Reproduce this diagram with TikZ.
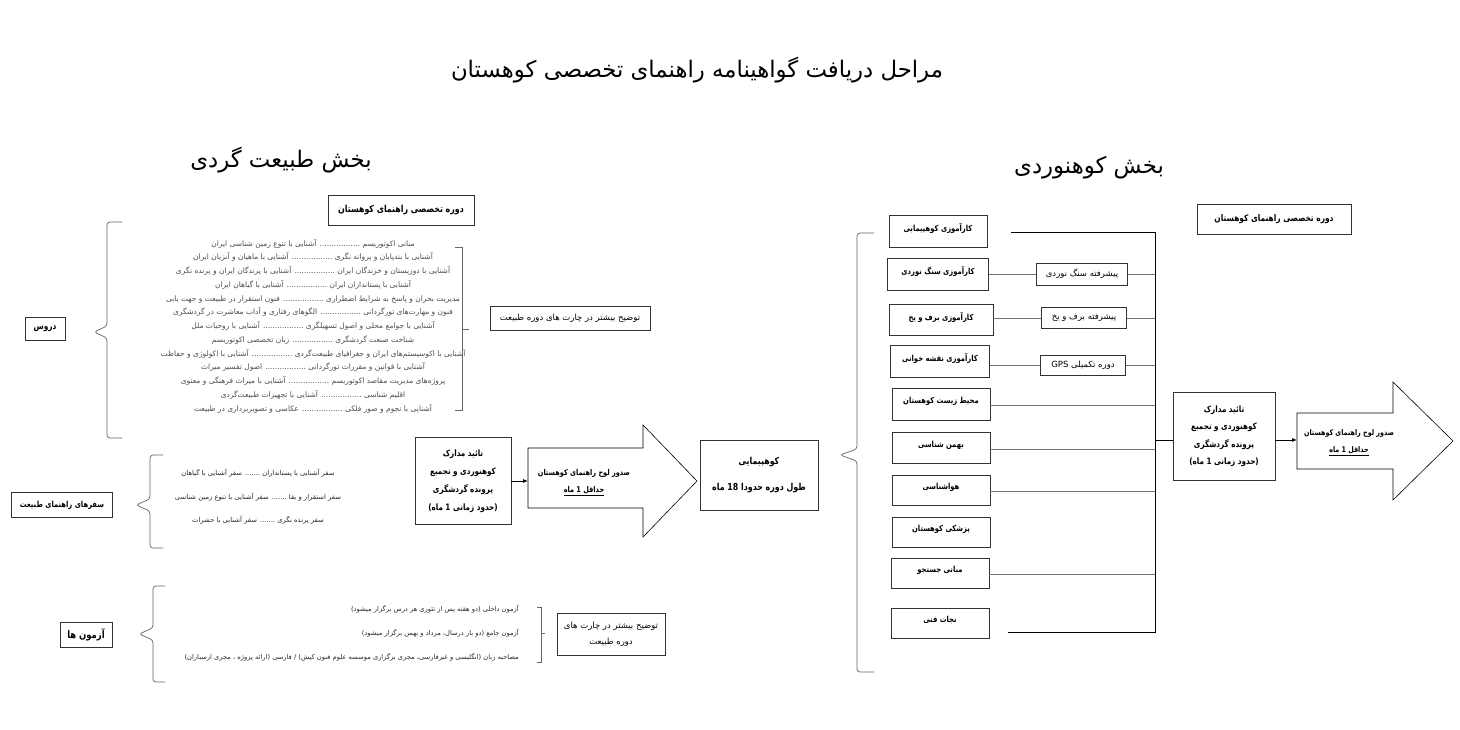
\documentclass[tikz,border=0pt]{standalone}
\usepackage{fontspec}
\newfontfamily\fa[Script=Arabic]{DejaVu Sans}
\newfontfamily\fan[Script=Arabic,FakeStretch=0.82]{DejaVu Sans}
\TeXXeTstate=1
\newcommand\rl[1]{\beginR #1\endR}
\usetikzlibrary{arrows.meta}
\tikzset{
	head/.style={font=\fa\fontsize{22.8}{26}\selectfont},
	box/.style={draw=black!80, line width=0.6pt, align=center, inner sep=2pt,
			font=\fan\bfseries\fontsize{8.3}{14}\selectfont},
	plainbox/.style={box, font=\fa\fontsize{8.5}{16}\selectfont},
	upper/.style={text depth=7pt},
	list/.style={align=center, text=black!70, inner sep=0pt,
			font=\fa\fontsize{7.5}{13.75}\selectfont},
	stepline/.style={draw=black!55, line width=0.6pt},
	busline/.style={draw=black, line width=1pt},
	brace/.style={draw=black!60, line width=0.7pt, rounded corners=3pt},
	bigarrow/.style={draw=black, line width=0.6pt}
}

\begin{document}
\begin{tikzpicture}[x=1pt,y=-1pt]
    \useasboundingbox (0,0) rectangle (1460,730);
    % headings
    \node[head] (title) at (697,70) {\rl{مراحل دریافت گواهینامه راهنمای تخصصی کوهستان}};
    \node[head] (nature) at (281,160) {\rl{بخش طبیعت گردی}};
    \node[head] (mount) at (1089,168) {\rl{بخش کوهنوردی}};

    % left part: courses
    \node[box, minimum width=146, minimum height=30, font=\fan\bfseries\fontsize{9.6}{14}\selectfont] (lcourse) at (401,210) {\rl{دوره تخصصی راهنمای کوهستان}};
    \node[box, minimum width=40, minimum height=23, font=\fan\bfseries\fontsize{9}{14}\selectfont] (lessons) at (45,329) {\rl{دروس}};
    \draw[brace] (122,222) -- (107,222) -- (107,326) -- (94,332) -- (107,338) -- (107,438) -- (122,438);
    \node[list] (courses) at (313,326) {
        \rl{مبانی اکوتوریسم ................. آشنایی با تنوع زمین شناسی ایران}\\
        \rl{آشنایی با بندپایان و پروانه نگری ................. آشنایی با ماهیان و آبزیان ایران}\\
        \rl{آشنایی با دوزیستان و خزندگان ایران ................. آشنایی با پرندگان ایران و پرنده نگری}\\
        \rl{آشنایی با پستانداران ایران ................. آشنایی با گیاهان ایران}\\
        \rl{مدیریت بحران و پاسخ به شرایط اضطراری ................. فنون استقرار در طبیعت و جهت یابی}\\
        \rl{فنون و مهارت‌های تورگردانی ................. الگوهای رفتاری و آداب معاشرت در گردشگری}\\
        \rl{آشنایی با جوامع محلی و اصول تسهیلگری ................. آشنایی با روحیات ملل}\\
        \rl{شناخت صنعت گردشگری ................. زبان تخصصی اکوتوریسم}\\
        \rl{آشنایی با اکوسیستم‌های ایران و جغرافیای طبیعت‌گردی ................. آشنایی با اکولوژی و حفاظت}\\
        \rl{آشنایی با قوانین و مقررات تورگردانی ................. اصول تفسیر میراث}\\
        \rl{پروژه‌های مدیریت مقاصد اکوتوریسم ................. آشنایی با میراث فرهنگی و معنوی}\\
        \rl{اقلیم شناسی ................. آشنایی با تجهیزات طبیعت‌گردی}\\
        \rl{آشنایی با نجوم و صور فلکی ................. عکاسی و تصویربرداری در طبیعت}};
    \draw[brace, rounded corners=0pt] (455,247) -- (462,247) -- (462,410) -- (455,410);
    \draw[brace] (462,329) -- (469,329);
    \node[plainbox, minimum width=160, minimum height=24] (more1) at (570,318) {\rl{توضیح بیشتر در چارت های دوره طبیعت}};

    % left part: trips
    \node[box, minimum width=101, minimum height=25] (trips) at (62,505) {\rl{سفرهای راهنمای طبیعت}};
    \draw[brace] (163,455) -- (150,455) -- (150,499) -- (136,505) -- (150,511) -- (150,548) -- (163,548);
    \node[list, text=black!85, font=\fa\fontsize{6.8}{23.5}\selectfont] (triplist) at (258,497) {
        \rl{سفر آشنایی با پستانداران ....... سفر آشنایی با گیاهان}\\
        \rl{سفر استقرار و بقا ....... سفر آشنایی با تنوع زمین شناسی}\\
        \rl{سفر پرنده نگری ....... سفر آشنایی با حشرات}};

    % left part: exams
    \node[box, minimum width=52, minimum height=25, font=\fan\bfseries\fontsize{10.3}{14}\selectfont] (exams) at (86,635) {\rl{آزمون ها}};
    \draw[brace] (165,586) -- (153,586) -- (153,628) -- (139,634) -- (153,640) -- (153,682) -- (165,682);
    \node[list, align=right, anchor=east, text=black!85, font=\fa\fontsize{6.7}{24}\selectfont] (examlist) at (519,633) {
        \rl{آزمون داخلی (دو هفته پس از تئوری هر درس برگزار میشود)}\\
        \rl{آزمون جامع (دو بار درسال، مرداد و بهمن برگزار میشود)}\\
        \rl{مصاحبه زبان (انگلیسی و غیرفارسی، مجری برگزاری موسسه علوم فنون کیش) / فارسی (ارائه پروژه ، مجری ارسباران)}};
    \draw[brace, rounded corners=0pt] (537,607) -- (541,607) -- (541,662) -- (537,662);
    \draw[brace] (541,633) -- (545,633);
    \node[plainbox, minimum width=108, minimum height=42] (more2) at (611,634) {\rl{توضیح بیشتر در چارت های}\\\rl{دوره طبیعت}};

    % left part: certificate
    \node[box, minimum width=96, minimum height=87, font=\fan\bfseries\fontsize{8.8}{18}\selectfont] (lconfirm) at (463,481)
        {\rl{تائید مدارک}\\\rl{کوهنوردی و تجمیع}\\\rl{پرونده گردشگری}\\\rl{(حدود زمانی 1 ماه)}};
    \coordinate (ltail) at (528,481);
    \draw[bigarrow] (528,448) -- (643,448) -- (643,425) -- (697,481) -- (643,537) -- (643,508) -- (528,508) -- cycle;
    \draw[line width=0.8pt, -{Latex[length=5pt,width=4pt]}] (lconfirm) -- (ltail);
    \node[align=center, font=\fan\bfseries\fontsize{8}{17}\selectfont] (lcert) at (584,483)
        {\rl{صدور لوح راهنمای کوهستان}\\\underline{\rl{حداقل 1 ماه}}};
    \node[box, minimum width=118, minimum height=70, font=\fan\bfseries\fontsize{9.6}{26}\selectfont] (hiking) at (759,475)
        {\rl{کوهپیمایی}\\\rl{طول دوره حدودا 18 ماه}};

    % right part
    \draw[brace] (874,233) -- (857,233) -- (857,449) -- (840,455) -- (857,461) -- (857,672) -- (874,672);
    \node[box, upper, minimum width=98, minimum height=32] (r1) at (938,231) {\rl{کارآموزی کوهپیمایی}};
    \node[box, upper, minimum width=101, minimum height=32] (r2) at (938,274) {\rl{کارآموزی سنگ نوردی}};
    \node[box, upper, minimum width=104, minimum height=31] (r3) at (941,320) {\rl{کارآموزی برف و یخ}};
    \node[box, upper, minimum width=99, minimum height=32] (r4) at (940,361) {\rl{کارآموزی نقشه خوانی}};
    \node[box, upper, minimum width=98, minimum height=32] (r5) at (941,404) {\rl{محیط زیست کوهستان}};
    \node[box, upper, minimum width=98, minimum height=31] (r6) at (941,448) {\rl{بهمن شناسی}};
    \node[box, upper, minimum width=98, minimum height=30] (r7) at (941,490) {\rl{هواشناسی}};
    \node[box, upper, minimum width=98, minimum height=30] (r8) at (941,532) {\rl{پزشکی کوهستان}};
    \node[box, upper, minimum width=98, minimum height=30] (r9) at (940,573) {\rl{مبانی جستجو}};
    \node[box, upper, minimum width=98, minimum height=30] (r10) at (940,623) {\rl{نجات فنی}};
    \node[plainbox, minimum width=91, minimum height=22] (a2) at (1082,274) {\rl{پیشرفته سنگ نوردی}};
    \node[plainbox, minimum width=85, minimum height=21] (a3) at (1084,318) {\rl{پیشرفته برف و یخ}};
    \node[plainbox, minimum width=85, minimum height=20] (a4) at (1083,365) {\rl{دوره تکمیلی \beginL GPS\endL}};
    \node[box, minimum width=154, minimum height=30, font=\fan\bfseries\fontsize{9.1}{14}\selectfont] (rcourse) at (1274,219) {\rl{دوره تخصصی راهنمای کوهستان}};

    \coordinate (topfree) at (1011,233);
    \coordinate (bustop) at (1155,233);
    \coordinate (busmid) at (1155,440);
    \coordinate (busbot) at (1155,632);
    \coordinate (botfree) at (1008,632);
    \draw[busline] (topfree) -- (bustop) -- (busbot) -- (botfree);
    \draw[stepline] (r2) -- (a2);
    \draw[stepline] (r3.east |- a3) -- (a3);
    \draw[stepline] (r4.east |- a4) -- (a4);
    \draw[stepline] (a2) -- (a2 -| bustop);
    \draw[stepline] (a3) -- (a3 -| bustop);
    \draw[stepline] (a4) -- (a4 -| bustop);
    \foreach \r in {r5,r6,r7,r9}
        \draw[stepline] ([yshift=-1pt]\r.east) -- ([yshift=-1pt]\r.east -| bustop);

    % right part: certificate
    \node[box, minimum width=102, minimum height=88, font=\fan\bfseries\fontsize{8.8}{17.5}\selectfont] (rconfirm) at (1224,436)
        {\rl{تائید مدارک}\\\rl{کوهنوردی و تجمیع}\\\rl{پرونده گردشگری}\\\rl{(حدود زمانی 1 ماه)}};
    \draw[busline] (busmid) -- (busmid -| rconfirm.west);
    \coordinate (rtail) at (1297,440);
    \draw[bigarrow] (1297,413) -- (1393,413) -- (1393,382) -- (1453,441) -- (1393,500) -- (1393,469) -- (1297,469) -- cycle;
    \draw[line width=0.8pt, -{Latex[length=5pt,width=4pt]}] (rconfirm.east |- rtail) -- (rtail);
    \node[align=center, font=\fan\bfseries\fontsize{7.8}{17}\selectfont] (rcert) at (1349,443)
        {\rl{صدور لوح راهنمای کوهستان}\\\underline{\rl{حداقل 1 ماه}}};
\end{tikzpicture}
\end{document}
